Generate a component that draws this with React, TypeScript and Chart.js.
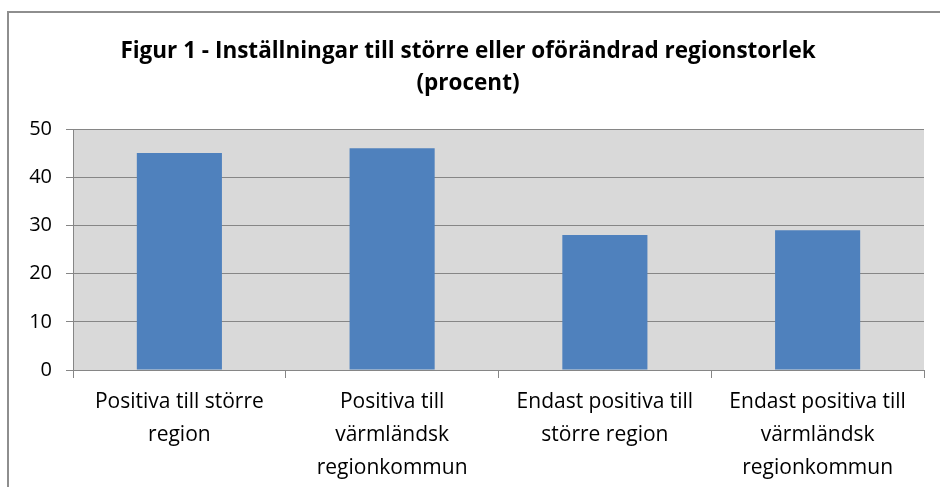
import React, { useEffect, useRef } from "react";
import { Chart, registerables } from "chart.js";

Chart.register(...registerables);

const categories: string[][] = [
  ["Positiva till större", "region"],
  ["Positiva till", "värmländsk", "regionkommun"],
  ["Endast positiva till", "större region"],
  ["Endast positiva till", "värmländsk", "regionkommun"],
];
const values: number[] = [45, 46, 28, 29];
const titleLines: string[] = [
  "Figur 1 - Inställningar till större eller oförändrad regionstorlek",
  "(procent)",
];
const yMin = 0;
const yMax = 50;
const yStep = 10;

const FONT = "'Open Sans', sans-serif";

const plotBg = {
  id: "plotBg",
  beforeDraw(chart: any) {
    const { ctx, chartArea } = chart;
    if (!chartArea) return;
    ctx.save();
    ctx.fillStyle = "#D9D9D9";
    ctx.fillRect(chartArea.left, chartArea.top, chartArea.right - chartArea.left, chartArea.bottom - chartArea.top);
    ctx.restore();
  },
};

export default function App() {
  const ref = useRef<HTMLCanvasElement | null>(null);
  useEffect(() => {
    if (!ref.current) return;
    const chart = new Chart(ref.current, {
      type: "bar",
      data: {
        labels: categories,
        datasets: [
          {
            data: values,
            backgroundColor: "#4F81BD",
            borderWidth: 0,
            barPercentage: 0.4,
            categoryPercentage: 1,
          },
        ],
      },
      options: {
        responsive: false,
        animation: false,
        devicePixelRatio: 1,
        layout: { padding: { left: 12, right: 16, top: 0, bottom: 0 } },
        plugins: {
          legend: { display: false },
          tooltip: { enabled: false },
          title: {
            display: true,
            text: titleLines,
            color: "#000",
            font: { family: FONT, size: 22.5, weight: "bold", lineHeight: "32px" },
            padding: { top: 36, bottom: 29 },
          },
        },
        scales: {
          x: {
            grid: {
              offset: true,
              drawOnChartArea: false,
              drawTicks: true,
              tickLength: 8,
              color: "#868686",
            },
            border: { color: "#868686", width: 1 },
            ticks: {
              color: "#000",
              font: { family: FONT, size: 21, lineHeight: "33px" },
              padding: 8,
              maxRotation: 0,
              autoSkip: false,
            },
            afterFit: (scale: any) => {
              scale.height = 117;
            },
          },
          y: {
            min: yMin,
            max: yMax,
            grid: { color: "#868686", tickLength: 7, lineWidth: 1 },
            border: { color: "#868686", width: 1 },
            ticks: {
              stepSize: yStep,
              color: "#000",
              font: { family: FONT, size: 20 },
              padding: 14,
            },
            afterFit: (scale: any) => {
              scale.width = 61;
            },
          },
        },
      },
      plugins: [plotBg],
    });
    return () => chart.destroy();
  }, []);

  return (
    <div style={{ position: "absolute", left: 0, top: 0, width: 940, height: 487, overflow: "hidden", background: "#fff" }}>
      <canvas ref={ref} width={940} height={487} style={{ position: "absolute", left: 0, top: 0 }} />
      <div
        style={{
          position: "absolute",
          left: 7,
          top: 11,
          width: 940,
          height: 500,
          border: "2px solid #8E8E8E",
          boxSizing: "border-box",
          pointerEvents: "none",
        }}
      />
    </div>
  );
}
